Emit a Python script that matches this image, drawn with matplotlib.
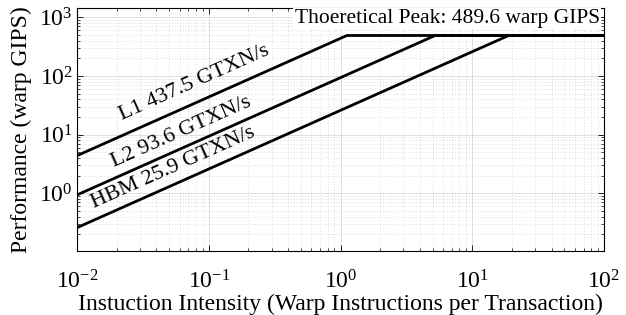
import numpy as np
import matplotlib
matplotlib.use('Agg')
import matplotlib.pyplot as plt

# roofline data (warp GIPS, GTXN/s)
peak = 489.6
mem_names = ['L1', 'L2', 'HBM']
mem_bw = [437.5, 93.6, 25.9]
x_range = [1e-2, 1e2]

plt.rcParams['font.family'] = 'Liberation Serif'
plt.rcParams['mathtext.fontset'] = 'custom'
plt.rcParams['mathtext.rm'] = 'Liberation Serif'
plt.rcParams['mathtext.it'] = 'Liberation Serif:italic'
plt.rcParams['axes.unicode_minus'] = False

fig = plt.figure(figsize=(6.26, 3.15), dpi=100)
ax = fig.add_axes([77/626, 64/315, 527/626, 243.5/315])

for bw in mem_bw:
    ridge = peak / bw
    xs = [x_range[0], ridge, x_range[1]]
    ys = [bw * x_range[0], peak, peak]
    ax.plot(xs, ys, color='black', lw=2.0, solid_capstyle='butt')

ax.set_xscale('log')
ax.set_yscale('log')
ax.set_xlim(x_range)
ax.set_ylim(min(mem_bw) * x_range[0] * 0.4, peak * 3)

ax.grid(True, which='major', color='#d9d9d9', lw=0.6, ls='-')
ax.grid(True, which='minor', color='#bdbdbd', lw=0.5, ls=(0, (1, 3)))
ax.set_axisbelow(True)
ax.tick_params(which='both', direction='in', top=True, right=True, labelsize=17)
ax.tick_params(which='major', length=4, width=0.6)
ax.tick_params(which='minor', length=2, width=0.5)
ax.tick_params(axis='x', pad=14)
ax.tick_params(axis='y', pad=3)
for s in ax.spines.values():
    s.set_linewidth(0.8)
ax.xaxis.set_minor_formatter(matplotlib.ticker.NullFormatter())
ax.yaxis.set_minor_formatter(matplotlib.ticker.NullFormatter())

ax.set_xlabel('Instuction Intensity (Warp Instructions per Transaction)', fontsize=17, labelpad=0)
ax.set_ylabel('Performance (warp GIPS)', fontsize=17, labelpad=5)

# slope angle on screen
p0 = ax.transData.transform((1e-2, 1.0))
p1 = ax.transData.transform((1e-1, 10.0))
angle = np.degrees(np.arctan2(p1[1] - p0[1], p1[0] - p0[0]))

label_pos = [(0.077, 76), (0.0615, 11.1), (0.0536, 2.7)]
for name, bw, (lx, ly) in zip(mem_names, mem_bw, label_pos):
    ax.text(lx, ly, '%s %.1f GTXN/s' % (name, bw), fontsize=16, rotation=angle,
            rotation_mode='anchor', ha='center', va='center')

ax.text(0.992, 0.955, 'Thoeretical Peak: %.1f warp GIPS' % peak, transform=ax.transAxes,
        fontsize=15.5, ha='right', va='center',
        bbox=dict(facecolor='white', edgecolor='none', pad=1))

fig.savefig('out.png', dpi=100)
